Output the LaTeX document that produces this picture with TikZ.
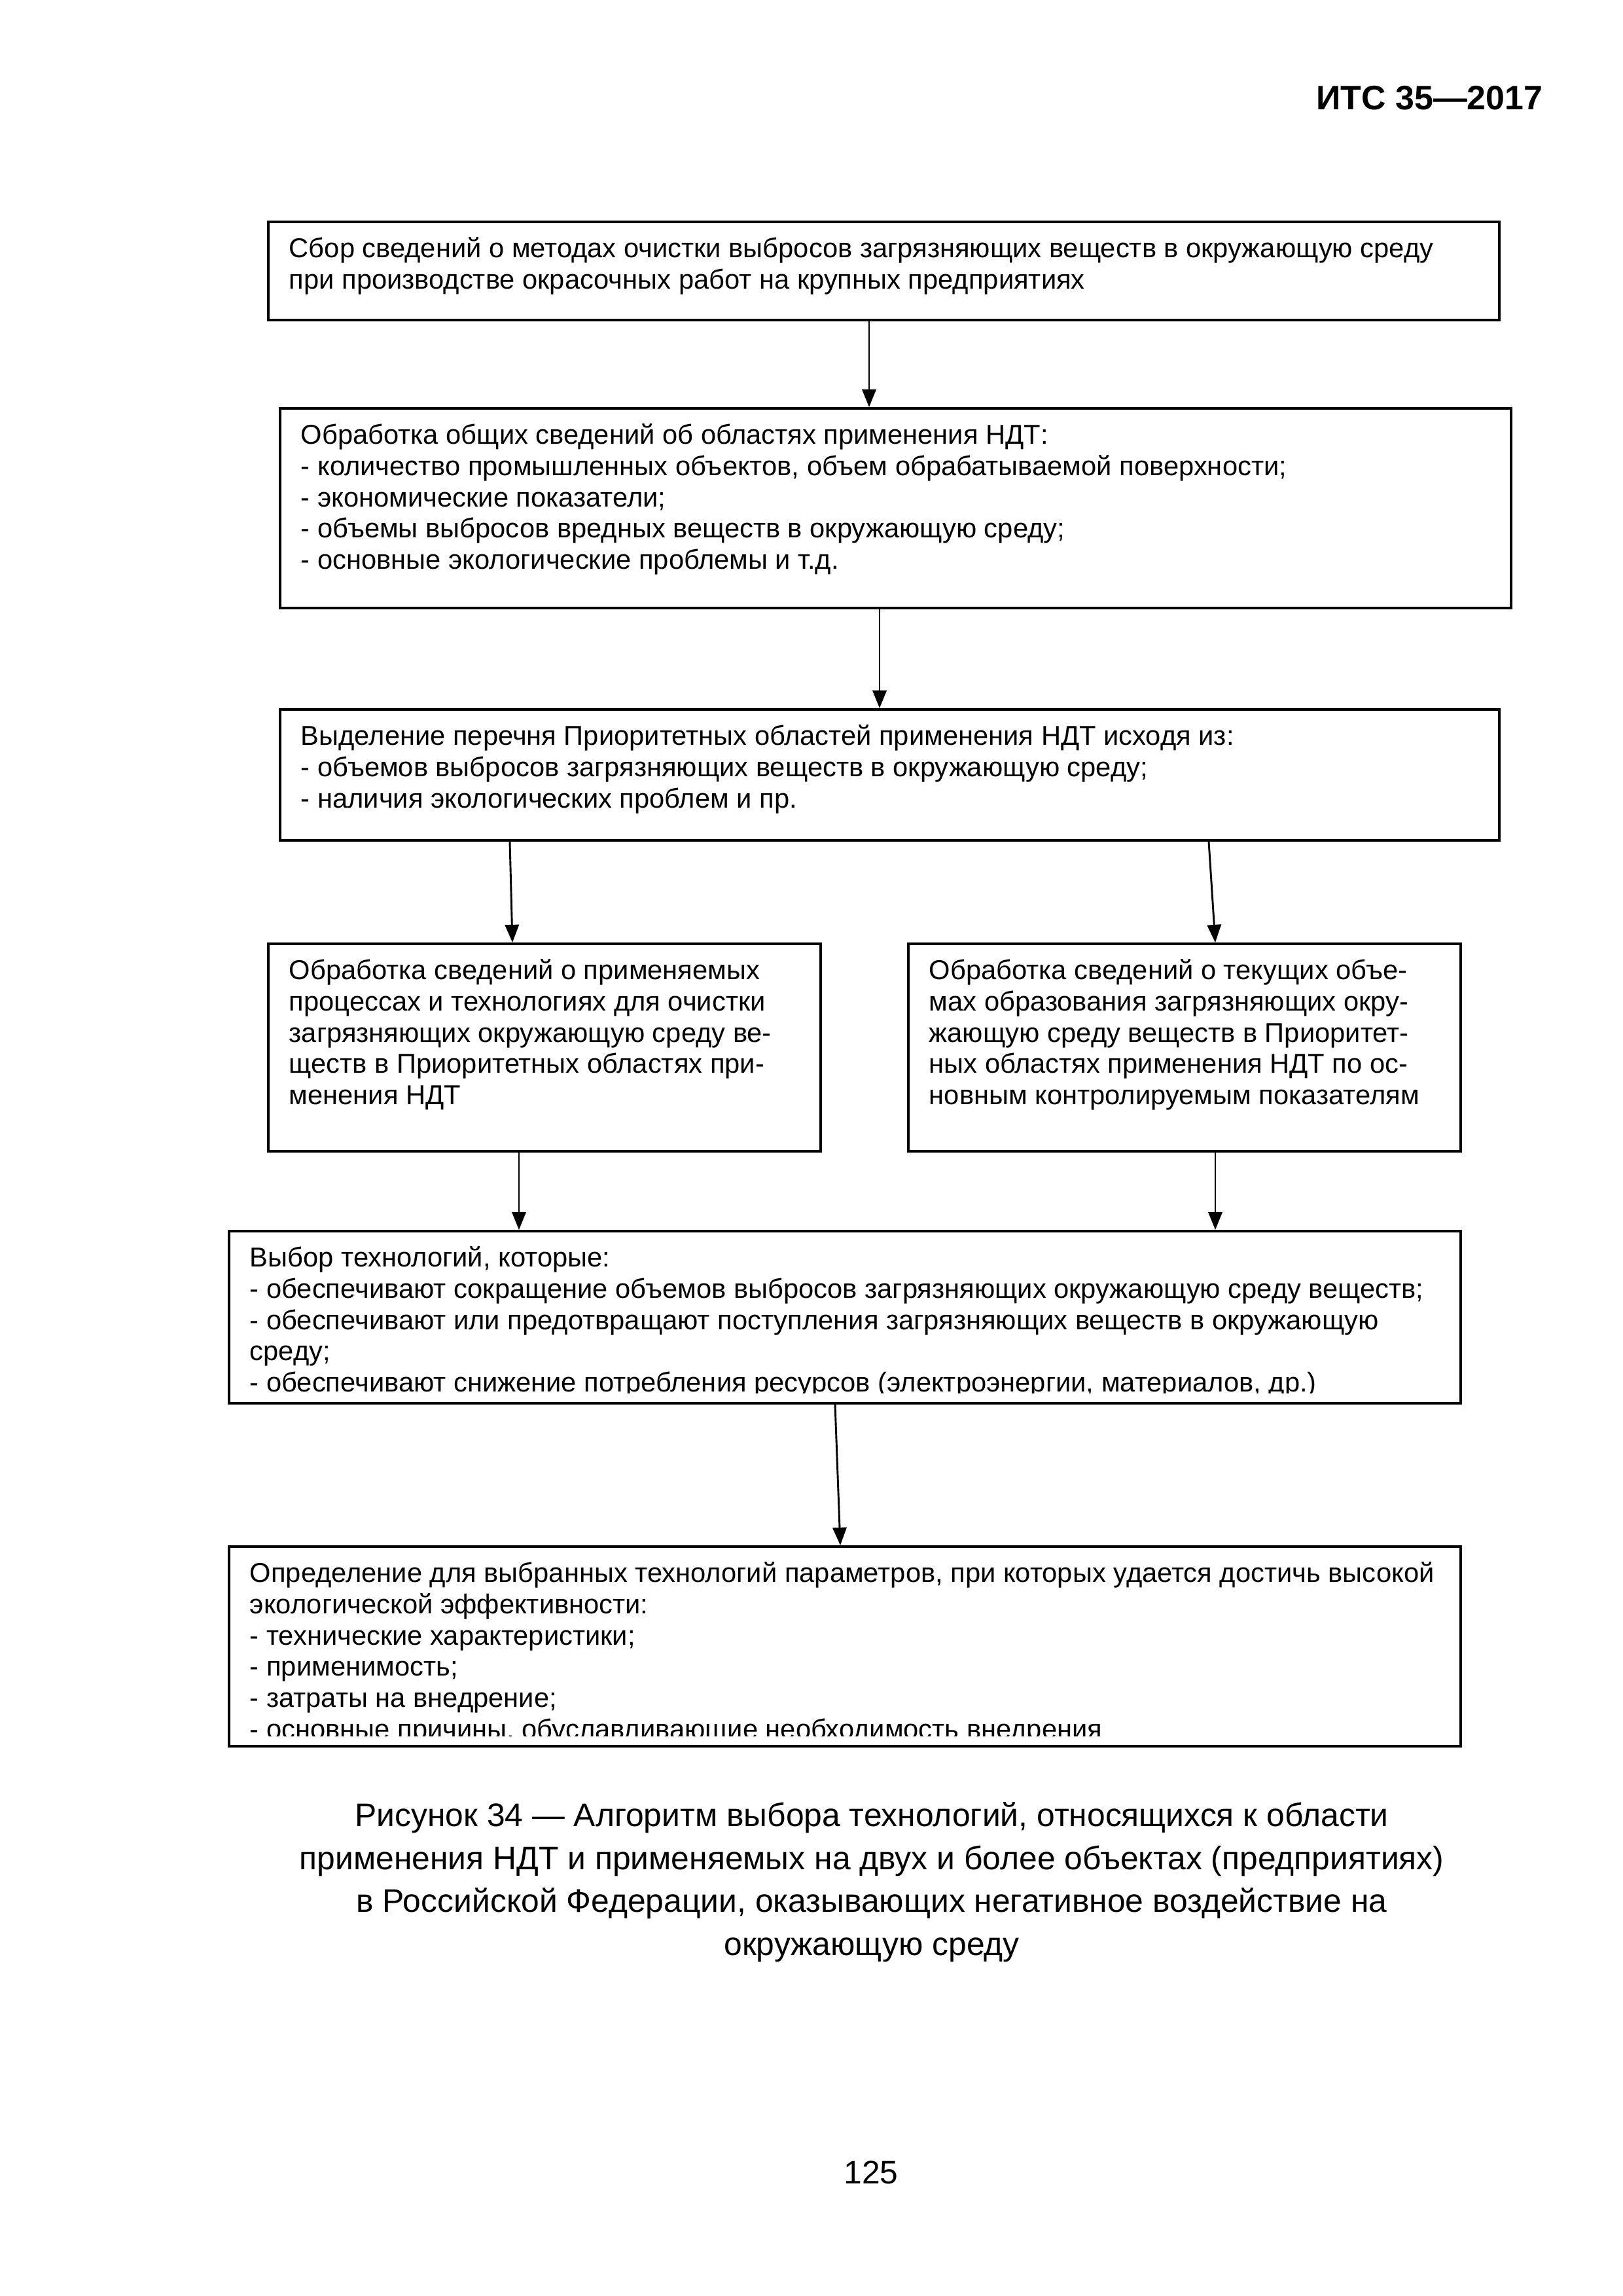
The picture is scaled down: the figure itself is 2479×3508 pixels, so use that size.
\documentclass[tikz,border=0pt]{standalone}
\usepackage{fontspec}
\setmainfont{Liberation Sans}
\usetikzlibrary{arrows.meta,calc}

\begin{document}
\begin{tikzpicture}[
  x=0.08471mm,y=-0.08471mm,
  >={Triangle[length=2.3mm,width=1.8mm]},
  box/.style={draw,line width=0.9pt,anchor=north west,inner sep=0pt},
  txt/.style={anchor=north west,inner sep=0pt,align=left,
    font=\fontsize{10.05}{11.5}\selectfont,execute at begin node={\rule{0pt}{10pt}}},
  arr/.style={draw,line width=0.7pt,->}
]
\useasboundingbox (0,0) rectangle (2479,3508);

\node[anchor=base east,font=\fontsize{12.5}{15}\selectfont\bfseries] (head) at (2372,167) {ИТС 35—2017};

% boxes
\node[box,minimum width=159.34mm,minimum height=12.71mm] (b1) at (408,337) {};
\node[box,minimum width=159.34mm,minimum height=25.84mm] (b2) at (426,622) {};
\node[box,minimum width=157.82mm,minimum height=16.94mm] (b3) at (426,1082) {};
\node[box,minimum width=71.5mm,minimum height=26.85mm] (b4l) at (408,1440) {};
\node[box,minimum width=71.5mm,minimum height=26.85mm] (b4r) at (1386,1440) {};
\node[box,minimum width=159.42mm,minimum height=22.28mm] (b5) at (348,1879) {};
\node[box,minimum width=159.42mm,minimum height=25.84mm] (b6) at (348,2361) {};

% texts
\node[txt] (t1) at ($(b1.north west)+(33,25)$) {Сбор сведений о методах очистки выбросов загрязняющих веществ в окружающую среду\\при производстве окрасочных работ на крупных предприятиях};
\node[txt] (t2) at ($(b2.north west)+(33,25)$) {Обработка общих сведений об областях применения НДТ:\\- количество промышленных объектов, объем обрабатываемой поверхности;\\- экономические показатели;\\- объемы выбросов вредных веществ в окружающую среду;\\- основные экологические проблемы и т.д.};
\node[txt] (t3) at ($(b3.north west)+(33,25)$) {Выделение перечня Приоритетных областей применения НДТ исходя из:\\- объемов выбросов загрязняющих веществ в окружающую среду;\\- наличия экологических проблем и пр.};
\node[txt] (t4l) at ($(b4l.north west)+(33,25)$) {Обработка сведений о применяемых\\процессах и технологиях для очистки\\загрязняющих окружающую среду ве-\\ществ в Приоритетных областях при-\\менения НДТ};
\node[txt] (t4r) at ($(b4r.north west)+(33,25)$) {Обработка сведений о текущих объе-\\мах образования загрязняющих окру-\\жающую среду веществ в Приоритет-\\ных областях применения НДТ по ос-\\новным контролируемым показателям};
\begin{scope}
  \clip (b5.north west) rectangle ($(b5.south east)+(0,-17)$);
  \node[txt] (t5) at ($(b5.north west)+(33,25)$) {Выбор технологий, которые:\\- обеспечивают сокращение объемов выбросов загрязняющих окружающую среду веществ;\\- обеспечивают или предотвращают поступления загрязняющих веществ в окружающую\\среду;\\- обеспечивают снижение потребления ресурсов (электроэнергии, материалов, др.)};
\end{scope}
\begin{scope}
  \clip (b6.north west) rectangle ($(b6.south east)+(0,-17)$);
  \node[txt] (t6) at ($(b6.north west)+(33,25)$) {Определение для выбранных технологий параметров, при которых удается достичь высокой\\экологической эффективности:\\- технические характеристики;\\- применимость;\\- затраты на внедрение;\\- основные причины, обуславливающие необходимость внедрения};
\end{scope}

% arrows
\draw[arr] ($(b1.south west)+(920,0)$) -- ($(b2.north west)+(902,0)$);
\draw[arr] ($(b2.south west)+(918,0)$) -- ($(b3.north west)+(918,0)$);
\draw[arr] ($(b3.south west)+(353,0)$) -- ($(b4l.north west)+(375,0)$);
\draw[arr] ($(b3.south west)+(1421,0)$) -- ($(b4r.north west)+(471,0)$);
\draw[arr] ($(b4l.south west)+(385,0)$) -- ($(b5.north west)+(445,0)$);
\draw[arr] ($(b4r.south west)+(471,0)$) -- ($(b5.north west)+(1509,0)$);
\draw[arr] ($(b5.south west)+(928,0)$) -- ($(b6.north west)+(936,0)$);

\node[anchor=north,align=center,font=\fontsize{12}{15.8}\selectfont,inner sep=0pt,
  execute at begin node={\rule{0pt}{12pt}}] (cap) at (1332,2753)
  {Рисунок 34 — Алгоритм выбора технологий, относящихся к области\\применения НДТ и применяемых на двух и более объектах (предприятиях)\\в Российской Федерации, оказывающих негативное воздействие на\\окружающую среду};
\node[anchor=base,font=\fontsize{12}{14}\selectfont] (pnum) at (1331,3336) {125};
\end{tikzpicture}
\end{document}
